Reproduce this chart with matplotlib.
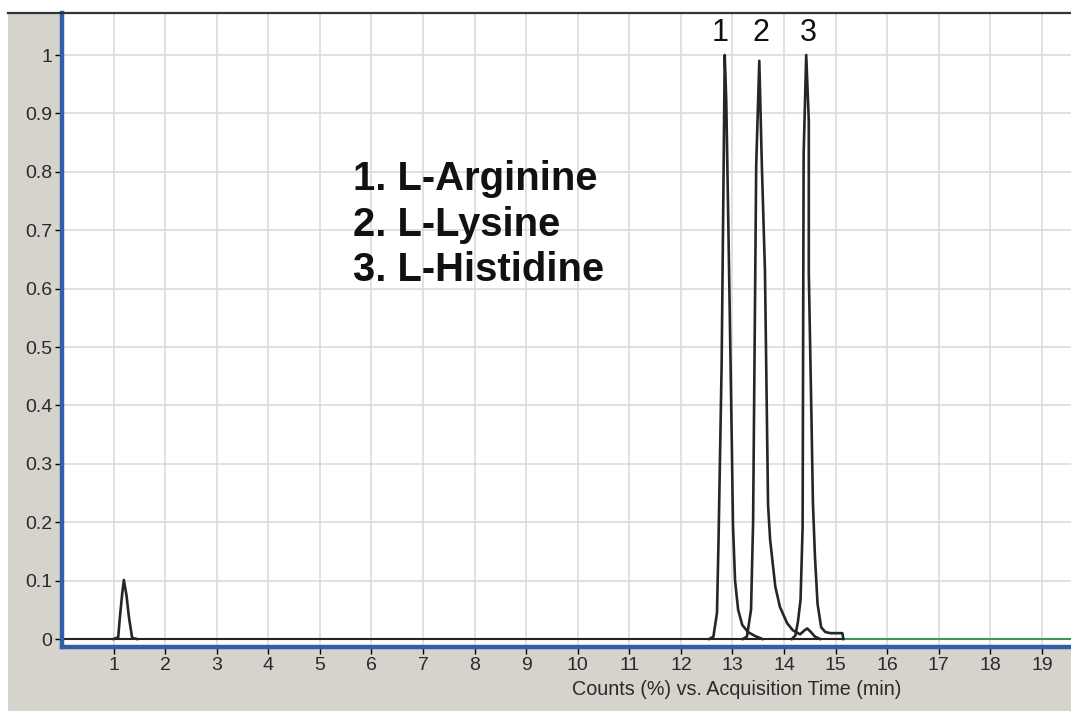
import matplotlib.pyplot as plt
from matplotlib.patches import Rectangle
from matplotlib.lines import Line2D

plt.rcParams['font.family'] = ['Liberation Sans', 'DejaVu Sans']

# small early peak (~1.2 min)
t0 = [1.00, 1.09, 1.12, 1.17, 1.20, 1.23, 1.25, 1.30, 1.36, 1.45]
y0 = [0.0, 0.003, 0.035, 0.08, 0.101, 0.085, 0.075, 0.036, 0.002, 0.0]

# peak 1: L-Arginine
t1 = [12.55, 12.63, 12.70, 12.73, 12.79, 12.83, 12.85, 12.88, 12.92, 12.99,
      13.01, 13.05, 13.11, 13.19, 13.30, 13.44, 13.58]
y1 = [0.0, 0.004, 0.045, 0.17, 0.47, 0.82, 1.0, 0.92, 0.71, 0.32,
      0.195, 0.10, 0.05, 0.024, 0.012, 0.005, 0.0]

# peak 2: L-Lysine
t2 = [13.20, 13.28, 13.36, 13.40, 13.46, 13.52, 13.57, 13.63, 13.69, 13.73,
      13.83, 13.92, 14.06, 14.17, 14.31, 14.40, 14.45, 14.52, 14.60, 14.70]
y2 = [0.0, 0.004, 0.05, 0.20, 0.81, 0.99, 0.81, 0.63, 0.23, 0.17,
      0.09, 0.055, 0.027, 0.015, 0.008, 0.015, 0.018, 0.012, 0.004, 0.0]

# peak 3: L-Histidine
t3 = [14.15, 14.22, 14.27, 14.32, 14.36, 14.38, 14.43, 14.48, 14.48, 14.53,
      14.56, 14.60, 14.65, 14.72, 14.80, 14.90, 15.00, 15.13, 15.15]
y3 = [0.0, 0.006, 0.03, 0.067, 0.19, 0.83, 1.0, 0.887, 0.627, 0.387,
      0.233, 0.14, 0.06, 0.02, 0.012, 0.01, 0.01, 0.01, 0.0]

compounds = ['1. L-Arginine', '2. L-Lysine', '3. L-Histidine']
peak_labels = ['1', '2', '3']
peak_label_x = [12.76, 13.56, 14.47]

xticks = list(range(1, 20))
yticks = [0, 0.1, 0.2, 0.3, 0.4, 0.5, 0.6, 0.7, 0.8, 0.9, 1.0]
ytick_labels = ['0', '0.1', '0.2', '0.3', '0.4', '0.5', '0.6', '0.7', '0.8', '0.9', '1']

W, H = 1071, 711
fig = plt.figure(figsize=(W / 100, H / 100), dpi=100, facecolor='white')

# grey window panel behind the plot
fig.patches.append(Rectangle((8 / W, 0), 1 - 8 / W, 1 - 13 / H, transform=fig.transFigure,
                             facecolor='#d6d3cc', edgecolor='none', zorder=-1))

ax = fig.add_axes([62 / W, (H - 647) / H, 1 - 62 / W, (647 - 13) / H])
ax.set_zorder(2)
ax.set_facecolor('white')
ax.set_xlim(0, (W - 61.5) / 51.6)
ax.set_ylim(-(647 - 639) / 584, (639 - 13) / 584)

ax.set_xticks(xticks)
ax.set_yticks(yticks)
ax.set_yticklabels(ytick_labels)
ax.grid(True, color='#d9d9d9', linewidth=1.1)
ax.set_axisbelow(True)
ax.tick_params(axis='both', direction='out', length=5, width=1, colors='black',
               labelsize=14, pad=2, labelcolor='#2a2a2a')

ax.spines['right'].set_visible(False)
ax.spines['top'].set_color('#333333')
ax.spines['top'].set_linewidth(1.6)
for s in ['left', 'bottom']:
    ax.spines[s].set_color('#2e5fa8')
    ax.spines[s].set_linewidth(3.2)

# top border across the grey panel
fig.lines.append(Line2D([8 / W, 62 / W], [1 - 13 / H, 1 - 13 / H], transform=fig.transFigure,
                        color='#333333', linewidth=1.6, zorder=3))

# baseline
ax.plot([0, 15.15], [0, 0], color='#222222', linewidth=1.5)
ax.plot([15.15, 19.6], [0, 0], color='#3a9a5c', linewidth=1.5)

for t, y in [(t0, y0), (t1, y1), (t2, y2), (t3, y3)]:
    ax.plot(t, y, color='#262626', linewidth=1.9)

for i, txt in enumerate(compounds):
    ax.text(5.65, 0.787 - i * 0.0775, txt, fontsize=28.8, fontweight='bold',
            va='center', ha='left', color='#111111')

for lab, x in zip(peak_labels, peak_label_x):
    ax.text(x, 1.038, lab, fontsize=22, ha='center', va='center', color='#111111')

ax.set_xlabel('Counts (%) vs. Acquisition Time (min)', fontsize=14.2, color='#2a2a2a')
ax.xaxis.set_label_coords(0.669, -0.052)

fig.savefig('out.png', dpi=100, facecolor=fig.get_facecolor())
